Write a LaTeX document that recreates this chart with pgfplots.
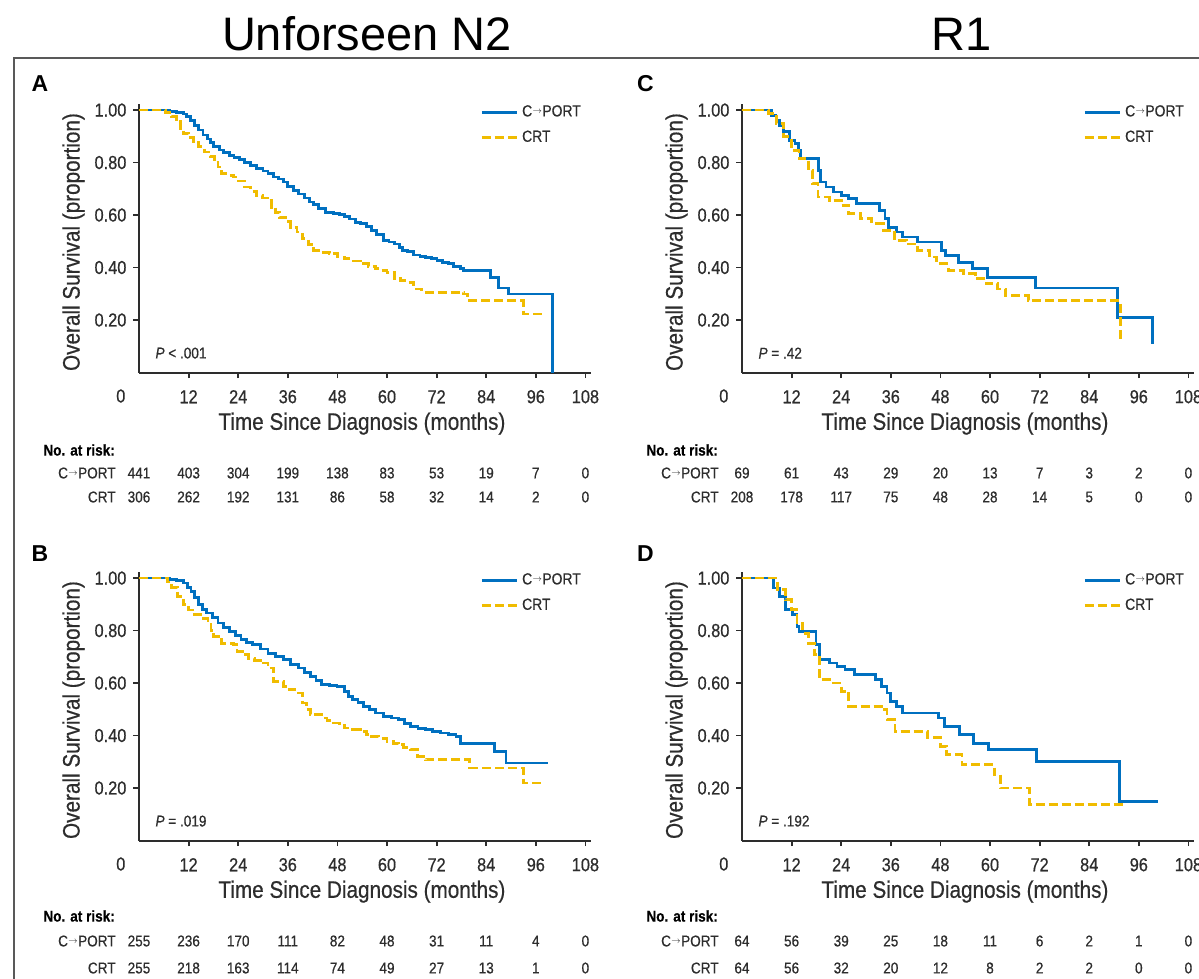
\documentclass[border=0pt]{standalone}
\usepackage{fontspec}
\setmainfont{Liberation Sans}[FakeStretch=0.87, FakeBold=0.5]
\newfontfamily\titlefont{Liberation Sans}
\usepackage{pgfplots}
\pgfplotsset{compat=1.18}
\definecolor{kmblue}{RGB}{0,112,192}
\definecolor{kmyellow}{RGB}{240,188,0}
\definecolor{axisgray}{RGB}{45,45,45}
\newcommand\arr{\kern0.2pt\raisebox{0.3ex}{\scalebox{0.55}{$\rightarrow$}}\kern0.2pt}
\newcommand\tickfont{\fontsize{9.4}{10}\selectfont}
\newcommand\labfont{\fontsize{11.9}{13}\selectfont}
\newcommand\legfont{\fontsize{8}{9}\selectfont}
\newcommand\riskfont{\fontsize{7.8}{9}\selectfont}
\pgfplotsset{
  kmaxis/.style={
    scale only axis, width=226.1pt, height=134.5pt,
    xmin=0, xmax=109.4, ymin=0, ymax=1.025,
    axis x line*=bottom, axis y line*=left,
    axis line style={-, line width=1pt, draw=axisgray},
    xtick={12,24,36,48,60,72,84,96,108},
    xticklabels={12,24,36,48,60,72,84,96,108},
    ytick={0.2,0.4,0.6,0.8,1.0},
    yticklabels={0.20,0.40,0.60,0.80,1.00},
    tick align=outside, major tick length=2.8pt,
    tick style={line width=0.9pt, draw=axisgray},
    x tick label style={font=\tickfont, inner sep=0pt, anchor=center, yshift=-9.3pt, text=axisgray},
    y tick label style={font=\tickfont, inner sep=0pt, anchor=east, xshift=-3.3pt, text=axisgray},
    xlabel={Time Since Diagnosis (months)},
    ylabel={Overall Survival (proportion)},
    xlabel style={font=\labfont, at={(axis description cs:0.493,-0.19)}, anchor=center, text=axisgray},
    ylabel style={font=\labfont, at={(axis description cs:-0.145,0.485)}, anchor=center, text=axisgray},
    legend style={at={(axis description cs:0.754,1.01)}, anchor=north west, draw=none, fill=none,
      inner sep=0pt, row sep=1.6pt, font=\legfont, text=axisgray},
    legend cell align=left,
    legend image code/.code={\draw[##1] (0pt,0pt) -- (17.5pt,0pt);},
    clip=false,
  },
  cport/.style={const plot, draw=kmblue, line width=1.4pt, no marks},
  crt/.style={const plot, draw=kmyellow, line width=1.4pt, no marks, dash pattern=on 4.5pt off 2pt},
}
% risk table: #1 x0, #2 y "No. at risk", #3 y row1, #4 y row2, #5 list1, #6 list2
\newcommand\risktable[6]{%
  \node[anchor=west, font=\riskfont\bfseries, text=black, inner sep=0pt] at ({#1-48pt},#2) {No. at risk:};
  \node[anchor=east, font=\riskfont, text=axisgray, inner sep=0pt] at ({#1-11.5pt},#3) {C\arr PORT};
  \node[anchor=east, font=\riskfont, text=axisgray, inner sep=0pt] at ({#1-11.5pt},#4) {CRT};
  \foreach \v [count=\i from 0] in {#5} \node[font=\riskfont, text=axisgray, inner sep=0pt] at ({#1+\i*24.8pt},#3) {\v};
  \foreach \v [count=\i from 0] in {#6} \node[font=\riskfont, text=axisgray, inner sep=0pt] at ({#1+\i*24.8pt},#4) {\v};
}
\begin{document}
\begin{tikzpicture}
\useasboundingbox (0,0) rectangle (599.5pt,-489.5pt);
\clip (0,0) rectangle (599.5pt,-489.5pt);
\fill[white] (0,0) rectangle (599.5pt,-489.5pt);
% frame
\draw[line width=1pt, black!65] (7pt,-489.5pt) -- (7pt,-29pt) -- (599.5pt,-29pt);
% titles
\node[font=\titlefont\fontsize{23.5}{28}\selectfont, text=black] at (183.5pt,-17pt) {Unforseen N2};
\node[font=\titlefont\fontsize{23.5}{28}\selectfont, text=black] at (481pt,-17pt) {R1};
% panel letters
\node[font=\titlefont\bfseries\fontsize{11.5}{13}\selectfont] at (20pt,-41.7pt) {A};
\node[font=\titlefont\bfseries\fontsize{11.5}{13}\selectfont] at (322.75pt,-41.7pt) {C};
\node[font=\titlefont\bfseries\fontsize{11.5}{13}\selectfont] at (20pt,-276.75pt) {B};
\node[font=\titlefont\bfseries\fontsize{11.5}{13}\selectfont] at (322.75pt,-276.75pt) {D};

% ---------- Panel A ----------
\begin{axis}[kmaxis, at={(69.5pt,-186.25pt)}, anchor=south west]
\addplot[cport] coordinates {(0,1)(6.5,1)(7.5,0.996)(9,0.992)(10.7,0.985)(11.5,0.975)(12.5,0.96)(13.5,0.94)(14.4,0.924)(15.5,0.905)(16.5,0.89)(17.3,0.875)(18.1,0.86)(19.5,0.848)(20.5,0.838)(21.9,0.828)(23,0.82)(24.3,0.812)(25.6,0.80)(27,0.79)(28.5,0.778)(30,0.768)(31.2,0.758)(32.5,0.745)(33.8,0.737)(34.9,0.726)(36,0.71)(37.3,0.695)(38.6,0.68)(40,0.665)(41.2,0.65)(42.3,0.64)(43.5,0.625)(45.1,0.61)(47,0.605)(48.5,0.603)(49.8,0.595)(51,0.585)(52.3,0.573)(53.5,0.567)(55,0.555)(56.3,0.541)(57.5,0.525)(59.1,0.503)(60.5,0.497)(61.9,0.49)(63,0.475)(63.7,0.465)(65,0.46)(66.5,0.448)(68,0.443)(69.3,0.437)(70.8,0.433)(72.1,0.427)(73.5,0.42)(74.9,0.414)(76,0.405)(77.7,0.395)(78.6,0.389)(85.1,0.363)(87,0.322)(89.3,0.299)(100,0)};
\addlegendentry{C\arr PORT}
\addplot[crt] coordinates {(0,1)(5.1,1)(6.5,0.99)(7.9,0.975)(9,0.955)(10,0.93)(10.7,0.911)(12,0.895)(13.2,0.875)(14.4,0.86)(15.8,0.84)(17.2,0.822)(18.2,0.8)(19.1,0.783)(20,0.758)(21.5,0.752)(22.8,0.745)(24,0.73)(25.6,0.707)(27,0.69)(28.4,0.675)(29.8,0.665)(31.2,0.656)(32.1,0.63)(33,0.61)(34,0.592)(35.5,0.575)(36.7,0.554)(38.2,0.535)(39.5,0.51)(41,0.488)(42.3,0.465)(44,0.458)(46,0.452)(48,0.44)(49.8,0.433)(51.5,0.425)(53.5,0.414)(55.5,0.405)(57.2,0.395)(58.5,0.39)(60,0.382)(61.9,0.357)(63.3,0.35)(64.7,0.344)(66.5,0.318)(68.4,0.306)(78.6,0.299)(79.5,0.274)(93,0.223)(98.1,0.223)};
\addlegendentry{CRT}
\node[anchor=west, font=\riskfont, text=axisgray, inner sep=0pt] at (axis cs:3.9,0.074) {\textit{P} < .001};
\node[font=\tickfont, text=axisgray, inner sep=0pt] at (axis cs:-4.4,0) [yshift=-11.75pt] {0};
\end{axis}
\risktable{69.5pt}{-225pt}{-236.5pt}{-248.5pt}{441,403,304,199,138,83,53,19,7,0}{306,262,192,131,86,58,32,14,2,0}

% ---------- Panel B ----------
\begin{axis}[kmaxis, at={(69.5pt,-420.25pt)}, anchor=south west]
\addplot[cport] coordinates {(0,1)(6,1)(7.5,0.995)(9,0.99)(10.7,0.981)(11.7,0.965)(12.6,0.949)(13.5,0.925)(14.4,0.898)(15.3,0.88)(16.3,0.867)(17.7,0.85)(19.1,0.829)(20.5,0.812)(21.9,0.797)(23.3,0.78)(24.7,0.765)(26,0.755)(27.4,0.746)(29.3,0.73)(31.2,0.714)(33,0.70)(34.9,0.689)(36.7,0.672)(38.6,0.657)(40,0.64)(41.4,0.625)(42.8,0.61)(44.2,0.594)(46,0.59)(47.9,0.587)(49.8,0.568)(50.7,0.55)(51.6,0.537)(53,0.525)(54.4,0.511)(55.8,0.5)(57.2,0.486)(59.1,0.473)(61,0.467)(62.8,0.46)(64.2,0.447)(65.6,0.435)(67.5,0.428)(69.3,0.422)(71,0.416)(73,0.41)(74.8,0.404)(76.7,0.397)(77.7,0.371)(86,0.34)(88.8,0.295)(99,0.295)};
\addlegendentry{C\arr PORT}
\addplot[crt] coordinates {(0,1)(5.6,1)(6.8,0.985)(7.9,0.965)(9.3,0.93)(10.7,0.898)(12,0.878)(13.5,0.86)(15,0.845)(16.7,0.829)(17.4,0.80)(18.1,0.778)(20,0.752)(22.8,0.746)(23.7,0.72)(25,0.708)(26.5,0.695)(28,0.685)(29.3,0.676)(31.2,0.657)(32.6,0.606)(34.9,0.587)(36.3,0.575)(37.7,0.562)(39.5,0.524)(40.5,0.5)(41.4,0.479)(44.2,0.467)(45.5,0.458)(47,0.448)(48.5,0.44)(49.8,0.429)(51.7,0.422)(53.5,0.416)(55,0.405)(56.3,0.397)(58,0.39)(60,0.378)(61.5,0.37)(62.8,0.365)(64,0.355)(65.6,0.346)(67.4,0.321)(69.3,0.308)(80,0.276)(93,0.219)(97.2,0.219)};
\addlegendentry{CRT}
\node[anchor=west, font=\riskfont, text=axisgray, inner sep=0pt] at (axis cs:3.9,0.074) {\textit{P} = .019};
\node[font=\tickfont, text=axisgray, inner sep=0pt] at (axis cs:-4.4,0) [yshift=-11.75pt] {0};
\end{axis}
\risktable{69.5pt}{-458pt}{-470.5pt}{-484pt}{255,236,170,111,82,48,31,11,4,0}{255,218,163,114,74,49,27,13,1,0}

% ---------- Panel C ----------
\begin{axis}[kmaxis, at={(371pt,-186.25pt)}, anchor=south west]
\addplot[cport] coordinates {(0,1)(6.3,1)(7.2,0.98)(8.2,0.962)(9,0.94)(10,0.917)(11.4,0.885)(12.8,0.873)(13.7,0.847)(14.2,0.815)(18.5,0.771)(18.9,0.726)(20.3,0.707)(22.1,0.688)(24,0.675)(25.8,0.662)(27.7,0.643)(33.2,0.618)(34.6,0.586)(35.5,0.554)(37.4,0.535)(38.8,0.516)(42.5,0.497)(48.2,0.465)(49.2,0.446)(52.4,0.42)(55.7,0.395)(59.4,0.363)(71,0.322)(90.9,0.21)(99.4,0.108)};
\addlegendentry{C\arr PORT}
\addplot[crt] coordinates {(0,1)(4.6,1)(6.5,0.987)(8.3,0.949)(10.1,0.898)(11.9,0.847)(13.8,0.815)(16.1,0.771)(17,0.72)(18.4,0.669)(21.2,0.656)(24,0.637)(25.8,0.605)(28.6,0.586)(31.4,0.567)(34.2,0.541)(36.9,0.503)(39.7,0.49)(42.5,0.465)(45.3,0.44)(47.1,0.414)(49.9,0.389)(53.6,0.376)(56.4,0.357)(59.1,0.338)(61.9,0.318)(63.7,0.293)(69.3,0.274)(91.5,0.134)(92,0.134)};
\addlegendentry{CRT}
\node[anchor=west, font=\riskfont, text=axisgray, inner sep=0pt] at (axis cs:3.9,0.074) {\textit{P} = .42};
\node[font=\tickfont, text=axisgray, inner sep=0pt] at (axis cs:-4.4,0) [yshift=-11.75pt] {0};
\end{axis}
\risktable{371pt}{-225pt}{-236.5pt}{-248.5pt}{69,61,43,29,20,13,7,3,2,0}{208,178,117,75,48,28,14,5,0,0}

% ---------- Panel D ----------
\begin{axis}[kmaxis, at={(371pt,-420.25pt)}, anchor=south west]
\addplot[cport] coordinates {(0,1)(6.3,1)(7.7,0.962)(9.1,0.93)(10.5,0.879)(12.3,0.86)(13.3,0.816)(13.8,0.797)(17.9,0.746)(18.8,0.689)(21.2,0.676)(23,0.664)(24.9,0.651)(27.2,0.632)(32.3,0.613)(33.7,0.587)(35.1,0.562)(36,0.53)(37.4,0.511)(38.8,0.486)(47.6,0.467)(49,0.435)(52.7,0.403)(56,0.371)(59.7,0.346)(71.3,0.302)(91.3,0.149)(100.6,0.149)};
\addlegendentry{C\arr PORT}
\addplot[crt] coordinates {(0,1)(6.8,1)(8.6,0.955)(10.5,0.917)(11.9,0.879)(13.3,0.829)(14.7,0.79)(16.1,0.752)(17.5,0.708)(18.8,0.613)(21.2,0.6)(24,0.568)(25.8,0.511)(33.7,0.498)(35.1,0.46)(37,0.416)(44.8,0.391)(48.1,0.359)(49.5,0.327)(53.2,0.289)(61.1,0.251)(62.5,0.2)(69.5,0.137)(92.7,0.137)};
\addlegendentry{CRT}
\node[anchor=west, font=\riskfont, text=axisgray, inner sep=0pt] at (axis cs:3.9,0.074) {\textit{P} = .192};
\node[font=\tickfont, text=axisgray, inner sep=0pt] at (axis cs:-4.4,0) [yshift=-11.75pt] {0};
\end{axis}
\risktable{371pt}{-458pt}{-470.5pt}{-484pt}{64,56,39,25,18,11,6,2,1,0}{64,56,32,20,12,8,2,2,0,0}
\end{tikzpicture}
\end{document}
